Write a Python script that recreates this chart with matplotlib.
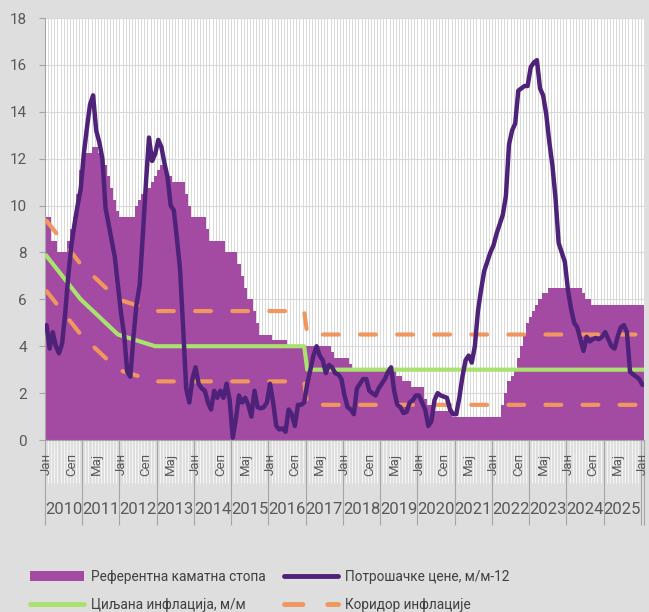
import numpy as np
import matplotlib
matplotlib.use('Agg')
import matplotlib.pyplot as plt
from matplotlib.lines import Line2D
from matplotlib.patches import Patch
import matplotlib.transforms as mtransforms

plt.rcParams['font.family'] = ['Roboto', 'DejaVu Sans']

# monthly data, Jan 2010 .. Jan 2026
policy_rate = (
    [9.5, 9.5, 8.5, 8.5, 8.0, 8.0, 8.0, 8.5, 9.0, 9.5, 10.5, 11.5]            # 2010
    + [12.0, 12.25, 12.25, 12.5, 12.5, 12.25, 12.0, 11.75, 11.25, 10.75, 10.25, 9.75]  # 2011
    + [9.5, 9.5, 9.5, 9.5, 9.5, 10.0, 10.25, 10.5, 10.5, 10.75, 11.0, 11.25]   # 2012
    + [11.5, 11.75, 11.75, 11.25, 11.25, 11.0, 11.0, 11.0, 11.0, 10.5, 10.0, 9.5]  # 2013
    + [9.5, 9.5, 9.5, 9.5, 9.0, 8.5, 8.5, 8.5, 8.5, 8.5, 8.0, 8.0]             # 2014
    + [8.0, 8.0, 7.5, 7.0, 6.5, 6.0, 6.0, 5.5, 5.0, 4.5, 4.5, 4.5]             # 2015
    + [4.5, 4.25, 4.25, 4.25, 4.25, 4.25, 4.0, 4.0, 4.0, 4.0, 4.0, 4.0]        # 2016
    + [4.0, 4.0, 4.0, 4.0, 4.0, 4.0, 4.0, 4.0, 3.75, 3.5, 3.5, 3.5]            # 2017
    + [3.5, 3.5, 3.25, 3.0, 3.0, 3.0, 3.0, 3.0, 3.0, 3.0, 3.0, 3.0]            # 2018
    + [3.0, 3.0, 3.0, 3.0, 3.0, 2.75, 2.75, 2.5, 2.5, 2.5, 2.25, 2.25]         # 2019
    + [2.25, 2.25, 1.75, 1.5, 1.5, 1.25, 1.25, 1.25, 1.25, 1.25, 1.25, 1.0]    # 2020
    + [1.0, 1.0, 1.0, 1.0, 1.0, 1.0, 1.0, 1.0, 1.0, 1.0, 1.0, 1.0]             # 2021
    + [1.0, 1.0, 1.0, 1.5, 2.0, 2.5, 2.75, 3.0, 3.5, 4.0, 4.5, 5.0]            # 2022
    + [5.25, 5.5, 5.75, 6.0, 6.25, 6.25, 6.5, 6.5, 6.5, 6.5, 6.5, 6.5]         # 2023
    + [6.5, 6.5, 6.5, 6.5, 6.5, 6.25, 6.0, 6.0, 5.75, 5.75, 5.75, 5.75]        # 2024
    + [5.75, 5.75, 5.75, 5.75, 5.75, 5.75, 5.75, 5.75, 5.75, 5.75, 5.75, 5.75] # 2025
    + [5.75]                                                                  # 2026
)

cpi = (
    [4.9, 3.9, 4.6, 4.0, 3.7, 4.1, 5.4, 7.0, 8.3, 9.2, 10.0, 10.7]
    + [12.2, 13.3, 14.3, 14.7, 13.2, 12.7, 12.0, 9.9, 9.2, 8.5, 7.8, 6.6]
    + [5.4, 4.5, 2.9, 2.7, 4.4, 5.8, 6.6, 8.7, 10.9, 12.9, 11.9, 12.2]
    + [12.8, 12.5, 11.8, 11.2, 10.0, 9.8, 8.6, 7.3, 4.8, 2.2, 1.6, 2.6]
    + [3.1, 2.4, 2.2, 2.1, 1.6, 1.3, 2.1, 1.8, 2.1, 1.8, 2.4, 1.7]
    + [0.1, 0.9, 1.9, 1.6, 1.8, 1.5, 1.0, 2.1, 1.4, 1.35, 1.4, 1.6]
    + [2.4, 1.6, 0.6, 0.45, 0.5, 0.35, 1.3, 1.1, 0.6, 1.5, 1.5, 1.6]
    + [2.4, 3.0, 3.6, 4.0, 3.6, 3.4, 2.85, 3.2, 3.1, 2.85, 2.8, 2.6]
    + [1.9, 1.4, 1.3, 1.1, 2.2, 2.4, 2.6, 2.6, 2.1, 2.0, 1.9, 2.2]
    + [2.4, 2.6, 2.9, 3.1, 2.1, 1.5, 1.4, 1.15, 1.2, 1.6, 1.7, 1.9]
    + [1.9, 1.6, 1.3, 0.6, 0.8, 1.7, 2.0, 1.9, 1.85, 1.8, 1.3, 1.1]
    + [1.1, 1.8, 2.7, 3.4, 3.6, 3.3, 4.0, 5.5, 6.4, 7.2, 7.6, 8.0]
    + [8.3, 8.8, 9.2, 9.6, 10.4, 12.6, 13.2, 13.5, 14.9, 15.0, 15.1, 15.1]
    + [15.9, 16.1, 16.2, 15.0, 14.7, 13.9, 12.7, 11.7, 10.3, 8.4, 8.0, 7.6]
    + [6.4, 5.6, 5.0, 4.8, 4.3, 3.8, 4.4, 4.2, 4.3, 4.35, 4.3, 4.4]
    + [4.6, 4.3, 4.0, 3.9, 4.4, 4.8, 4.9, 4.6, 2.9, 2.8, 2.7, 2.6]
    + [2.35]
)

# inflation target and corridor, at the months where the line bends
target_months = [0, 11, 23, 35, 83, 84, 192]
target = [7.85, 6.0, 4.5, 4.0, 4.0, 3.0, 3.0]
corridor_upper = [9.35, 7.5, 6.0, 5.5, 5.5, 4.5, 4.5]
corridor_lower = [6.35, 4.5, 3.0, 2.5, 2.5, 1.5, 1.5]

month_labels = ['Јан', 'Сеп', 'Мај'] * 8 + ['Јан']
years = list(range(2010, 2026))

labels = ['Референтна каматна стопа', 'Потрошачке цене, м/м-12',
          'Циљана инфлација, м/м', 'Коридор инфлације']

c_rate = '#a34aa3'
c_cpi = '#4f2279'
c_target = '#a9e26f'
c_corr = '#f0975f'
c_bg = '#dedede'
c_axis = '#a6a6a6'
c_text = '#595959'
dash = (3.8, 5.1)

n = len(cpi)
months = np.arange(n)

fig = plt.figure(figsize=(6.49, 6.12), dpi=100, facecolor=c_bg)
ax = fig.add_axes([45 / 649, 1 - 440 / 612, 599 / 649, 422 / 612])
ax.set_facecolor('white')

ax.stairs(policy_rate, np.arange(n + 1) - 0.5, fill=True, color=c_rate,
          linewidth=0, zorder=2)
ax.plot(target_months, corridor_upper, color=c_corr, lw=3, dashes=dash,
        dash_capstyle='round', zorder=3)
ax.plot(target_months, corridor_lower, color=c_corr, lw=3, dashes=dash,
        dash_capstyle='round', zorder=3)
ax.plot(target_months, target, color=c_target, lw=3, zorder=4)
ax.plot(months, cpi, color=c_cpi, lw=3.2, solid_joinstyle='round',
        solid_capstyle='round', zorder=5)

ax.set_xlim(-0.5, n - 0.5)
ax.set_ylim(0, 18)
ax.set_yticks(range(0, 19, 2))
ax.grid(axis='y', color='#d9d9d9', lw=0.8, zorder=0)
for xb in np.arange(n + 1) - 0.5:
    ax.axvline(xb, color='#d9d9d9', lw=0.7, zorder=0)

for s in ['top', 'right']:
    ax.spines[s].set_visible(False)
ax.spines['left'].set_color(c_axis)
ax.spines['bottom'].set_color(c_axis)

ax.tick_params(axis='y', colors=c_axis, labelcolor=c_text, labelsize=11,
               length=4, pad=9)

# category axis: month ticks, year separators
ax.set_xticks(list(np.arange(0, n, 12) - 0.5) + [n - 0.5])
ax.set_xticks(np.arange(n + 1) - 0.5, minor=True)
ax.tick_params(axis='x', which='major', length=61, color=c_axis, width=0.8,
               labelbottom=False)
ax.tick_params(axis='x', which='minor', length=31, color='#f4f4f4', width=0.8)

trans = mtransforms.blended_transform_factory(ax.transData, fig.transFigure)
for i, lab in zip(range(0, n, 8), month_labels):
    ax.text(i, 1 - 464 / 612, lab, transform=trans, rotation=90, ha='center',
            va='center', fontsize=9.5, color=c_text, clip_on=False)
for k, yr in enumerate(years):
    ax.text(12 * k + 5.5, 1 - 509 / 612, str(yr), transform=trans, ha='center',
            va='center', fontsize=12, color=c_text, clip_on=False)

handles = [Patch(facecolor=c_rate, edgecolor='none'),
           Line2D([], [], color=c_target, lw=3.5, solid_capstyle='round'),
           Line2D([], [], color=c_cpi, lw=3.5, solid_capstyle='round'),
           Line2D([], [], color=c_corr, lw=3.5, dashes=dash, dash_capstyle='round')]
fig.legend(handles, [labels[0], labels[2], labels[1], labels[3]],
           loc='upper left', bbox_to_anchor=(23 / 649, 1 - 563 / 612), ncol=2,
           frameon=False, borderpad=0, fontsize=9.8, handlelength=4.0,
           handletextpad=0.5, labelspacing=1.05, columnspacing=1.3,
           labelcolor='#404040')

fig.savefig('out.png', dpi=100, facecolor=c_bg)
